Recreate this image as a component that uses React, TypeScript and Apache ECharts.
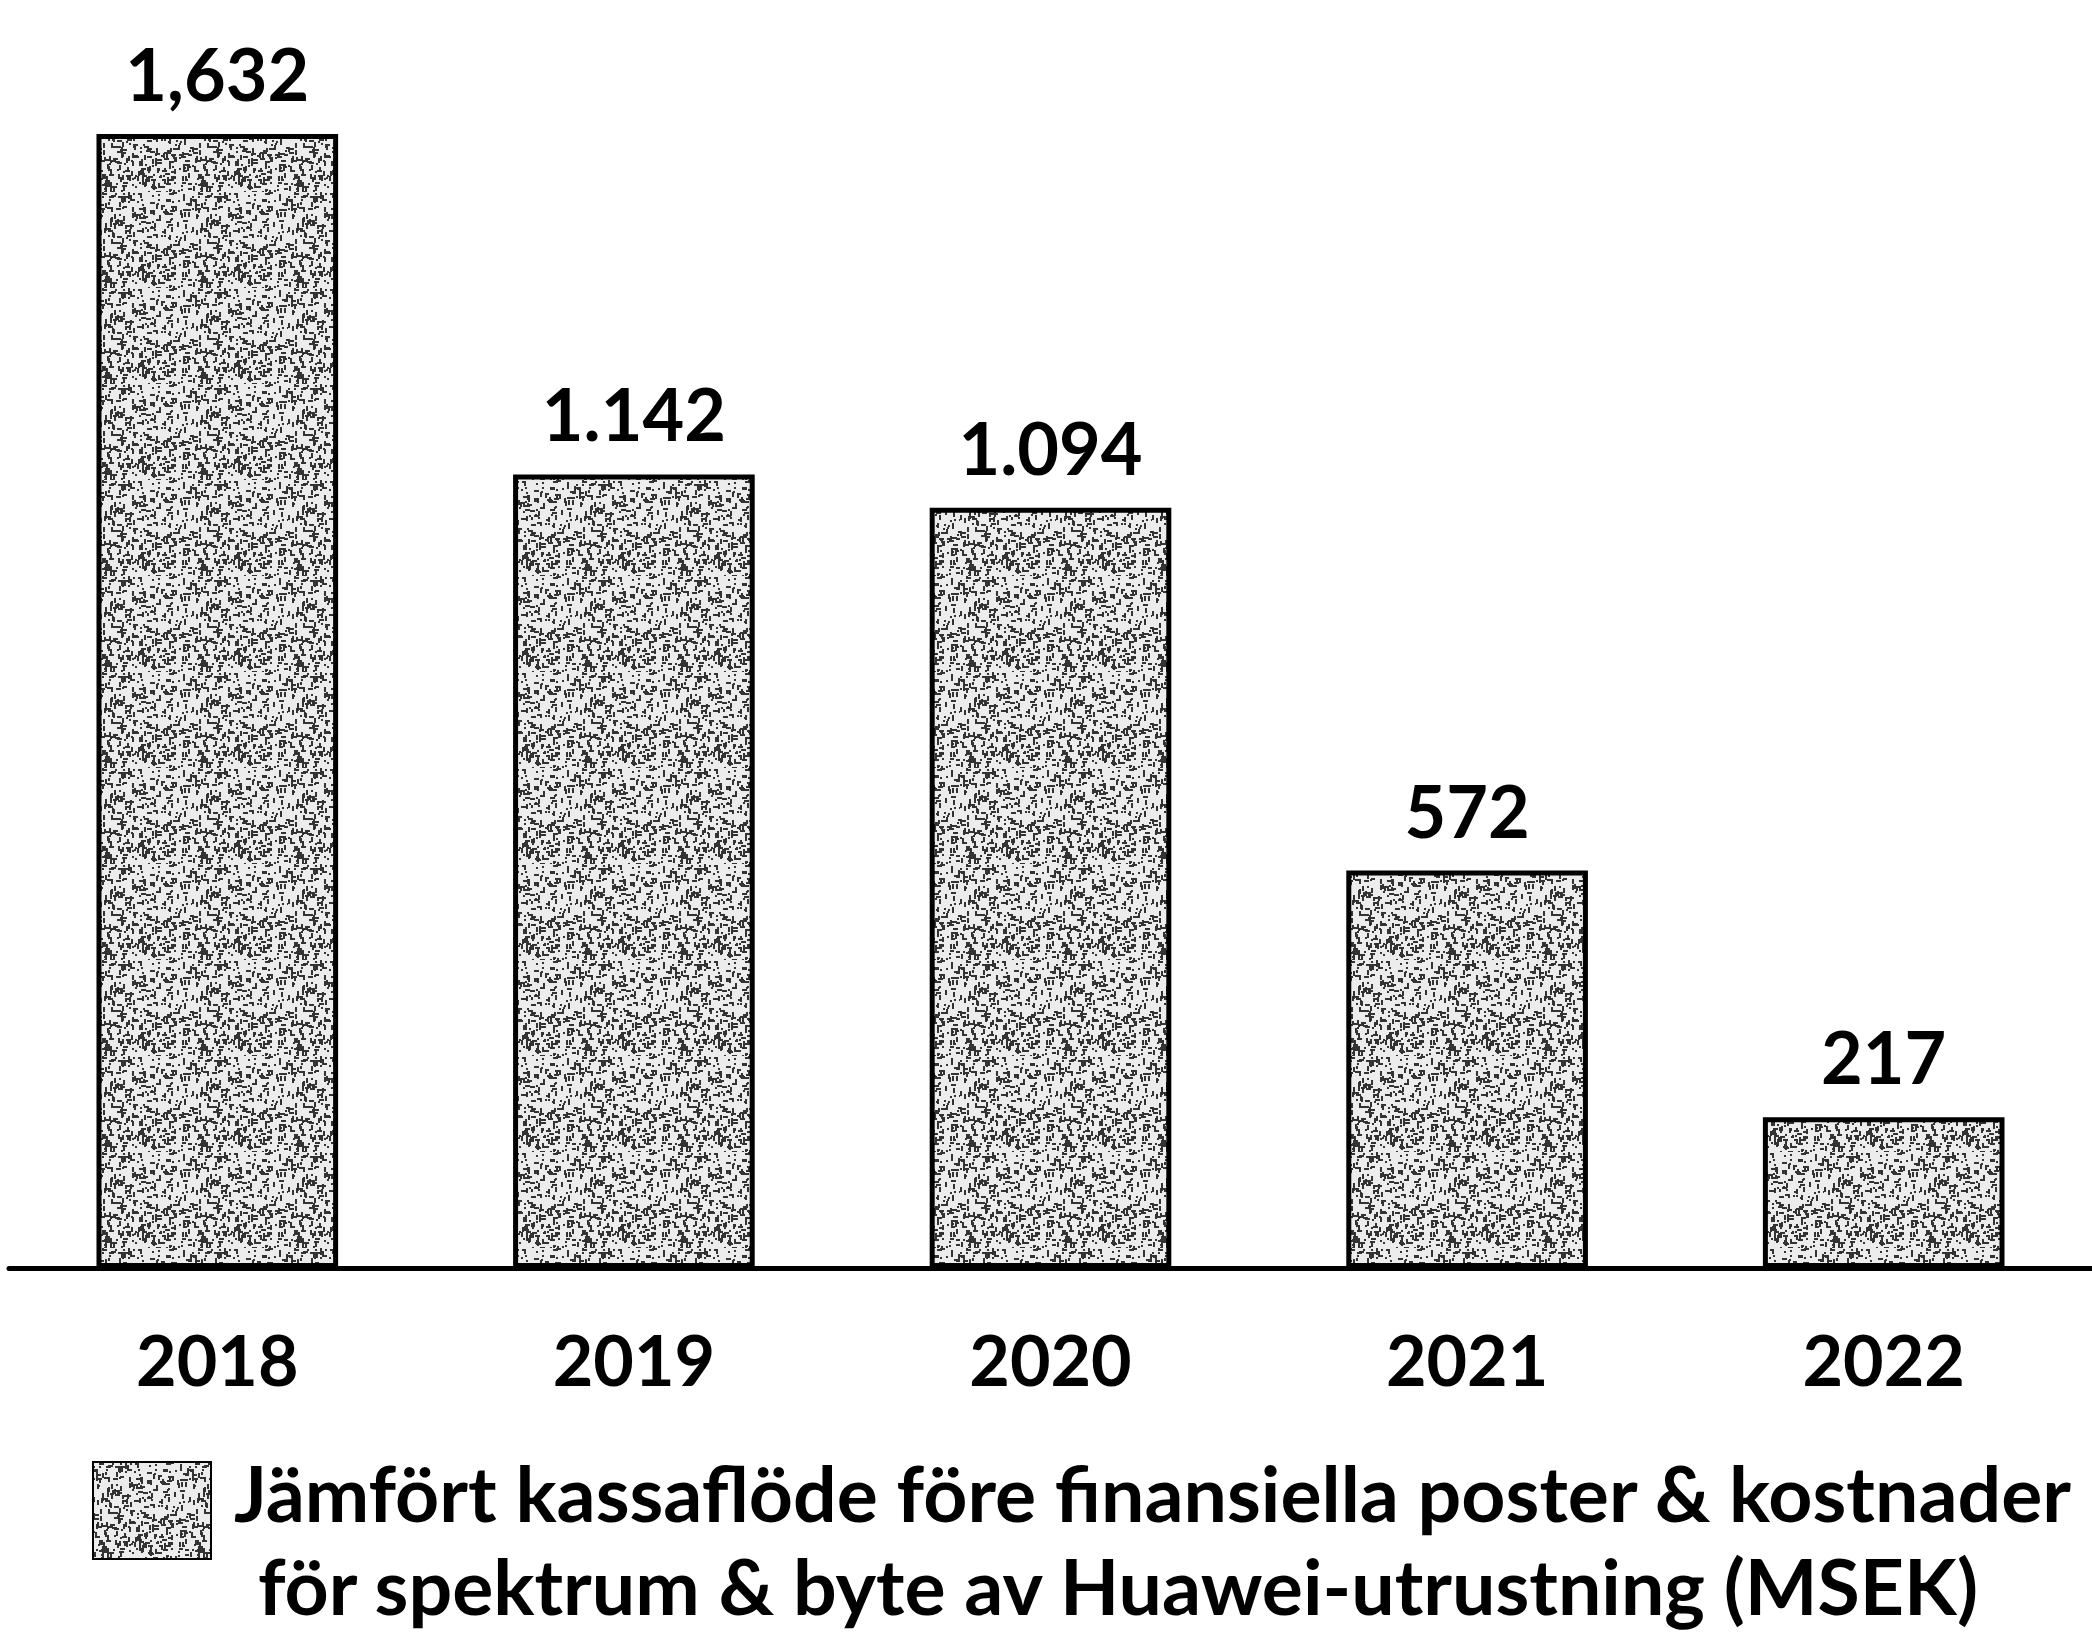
import React, { useEffect, useRef } from "react";
import * as echarts from "echarts";

const years = ["2018", "2019", "2020", "2021", "2022"];
const values = [1632, 1142, 1094, 572, 217];
const valueLabels = ["1,632", "1.142", "1.094", "572", "217"];
const legendLine1 = "Jämfört kassaflöde före finansiella poster & kostnader";
const legendLine2 = "för spektrum & byte av Huawei-utrustning (MSEK)";
const seriesName = legendLine1 + " " + legendLine2;

function makeTexture(): HTMLCanvasElement {
  const size = 96;
  const c = document.createElement("canvas");
  c.width = size;
  c.height = size;
  const ctx = c.getContext("2d")!;
  ctx.fillStyle = "#ececec";
  ctx.fillRect(0, 0, size, size);
  ctx.fillStyle = "#333333";
  const h = (i: number) => {
    const x = Math.sin(i * 12.9898 + 78.233) * 43758.5453;
    return x - Math.floor(x);
  };
  for (let i = 0; i < 420; i++) {
    const x = Math.floor(h(i * 3 + 1) * size);
    const y = Math.floor(h(i * 3 + 2) * size);
    const k = h(i * 3 + 3);
    if (k < 0.4) ctx.fillRect(x, y, 2, 2);
    else if (k < 0.65) ctx.fillRect(x, y, 5, 2);
    else ctx.fillRect(x, y, 2, 5);
  }
  return c;
}

export default function App() {
  const ref = useRef<HTMLDivElement>(null);
  useEffect(() => {
    if (!ref.current) return;
    const chart = echarts.init(ref.current, null, { renderer: "svg" });
    const tex = makeTexture();
    const pattern = { image: tex, repeat: "repeat", imageWidth: tex.width, imageHeight: tex.height } as any;
    chart.setOption({
      animation: false,
      backgroundColor: "#ffffff",
      textStyle: { fontFamily: "Lato" },
      grid: { left: 9, right: -6, top: 134, bottom: 367, containLabel: false },
      xAxis: {
        type: "category",
        data: years,
        axisTick: { show: false },
        axisLine: { lineStyle: { color: "#000", width: 5 } },
        axisLabel: { margin: 56, fontSize: 70, fontWeight: "bold", color: "#000", fontFamily: "Lato" },
      },
      yAxis: {
        type: "value",
        min: 0,
        max: "dataMax",
        show: false,
        splitLine: { show: false },
      },
      legend: {
        show: true,
        left: 92,
        top: 1453,
        padding: 0,
        icon: "rect",
        itemWidth: 118,
        itemHeight: 97,
        selectedMode: false,
        formatter: () => "{a|" + legendLine1 + "}\n{b|" + legendLine2 + "}",
        textStyle: {
          padding: [55, 0, 0, 18],
          rich: {
            a: { fontSize: 77, fontWeight: "bold", color: "#000", fontFamily: "Lato", lineHeight: 93 },
            b: { fontSize: 77, fontWeight: "bold", color: "#000", fontFamily: "Lato", lineHeight: 93, padding: [0, 0, 0, 24] },
          },
        },
      },
      series: [
        {
          name: seriesName,
          type: "bar",
          data: values,
          barCategoryGap: "42%",
          itemStyle: { color: pattern, borderColor: "#000", borderWidth: 5 },
          label: {
            show: true,
            position: "top",
            distance: 25,
            fontSize: 72,
            fontWeight: "bold",
            color: "#000",
            fontFamily: "Lato",
            formatter: (p: any) => valueLabels[p.dataIndex],
          },
        },
      ],
    });
    return () => chart.dispose();
  }, []);
  return (
    <div
      ref={ref}
      style={{ position: "absolute", left: 0, top: 0, width: 2092, height: 1635, background: "#fff" }}
    />
  );
}
